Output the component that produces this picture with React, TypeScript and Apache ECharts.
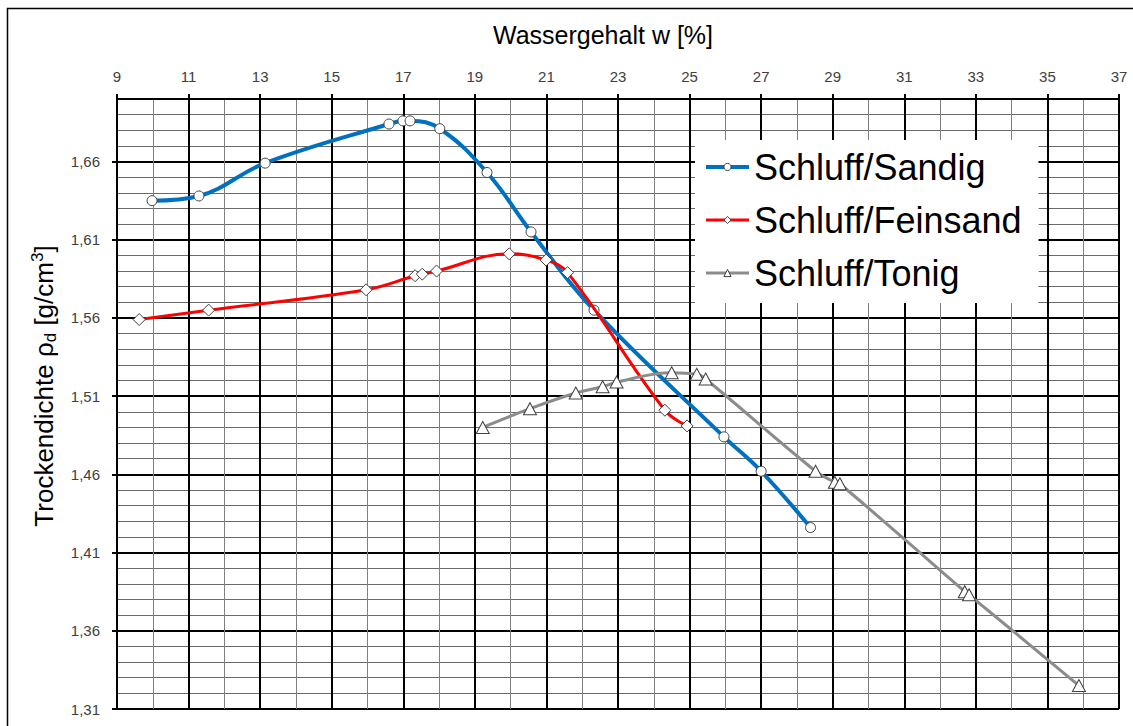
import React, { useEffect, useRef } from "react";
import * as echarts from "echarts";

const FONT = "'Liberation Sans', Arial, Helvetica, sans-serif";

// Series names as shown in the legend
const seriesNames = ["Schluff/Sandig", "Schluff/Feinsand", "Schluff/Tonig"];

// Water content w [%] and dry density ρd [g/cm³] per soil sample
const sandigW = [9.98, 11.29, 13.14, 16.6, 16.99, 17.19, 18.02, 19.34, 20.57, 22.33, 25.96, 27.0, 28.38];
const sandigRho = [1.635, 1.638, 1.659, 1.684, 1.686, 1.686, 1.681, 1.653, 1.615, 1.565, 1.484, 1.462, 1.426];

const feinsandW = [9.62, 11.56, 15.96, 17.33, 17.53, 17.93, 19.96, 20.99, 21.59, 24.31, 24.93];
const feinsandRho = [1.559, 1.565, 1.578, 1.587, 1.588, 1.59, 1.601, 1.597, 1.589, 1.501, 1.491];

const tonigW = [19.22, 20.54, 21.82, 22.57, 22.96, 24.5, 25.2, 25.45, 28.52, 29.06, 29.2, 32.69, 32.81, 35.88];
const tonigRho = [1.49, 1.502, 1.512, 1.516, 1.519, 1.525, 1.524, 1.521, 1.462, 1.455, 1.454, 1.385, 1.383, 1.325];

// Axis ranges
const xRange = [9, 37];
const xStep = 2;
const yRange = [1.31, 1.7];
const yStep = 0.05;
const yMinorStep = 0.01;

const seriesColors = ["#0070C0", "#FF0000", "#8C8C8C"];
const seriesSymbols = ["circle", "diamond", "triangle"];

const zip = (xs: number[], ys: number[]) => xs.map((x, i) => [x, ys[i]]);
const fmtComma = (v: number) => v.toFixed(2).replace(".", ",");

export default function App() {
  const ref = useRef<HTMLDivElement>(null);

  useEffect(() => {
    if (!ref.current) return;
    const chart = echarts.init(ref.current, null, { renderer: "svg" });

    const dataSets = [zip(sandigW, sandigRho), zip(feinsandW, feinsandRho), zip(tonigW, tonigRho)];
    const symbolSizes: (number | number[])[] = [10, 12, [13, 12]];
    const lineWidths = [4, 3, 3];

    chart.setOption({
      animation: false,
      backgroundColor: "#fff",
      textStyle: { fontFamily: FONT },
      grid: {
        left: 117,
        right: 14,
        top: 99,
        bottom: 17,
        containLabel: false,
        outerBoundsMode: "none",
      },
      xAxis: {
        type: "value",
        position: "top",
        min: xRange[0],
        max: xRange[1],
        interval: xStep,
        name: "Wassergehalt w [%]",
        nameLocation: "middle",
        nameGap: 52,
        nameTextStyle: { fontFamily: FONT, fontSize: 25, color: "#000", padding: [0, 30, 0, 0] },
        axisLine: { show: true, lineStyle: { color: "#000", width: 2 } },
        axisTick: { show: true, length: 5, lineStyle: { color: "#000", width: 2 } },
        axisLabel: { margin: 15, fontFamily: FONT, fontSize: 15, color: "#404040" },
        splitLine: { show: true, lineStyle: { color: "#000", width: 2 } },
        minorTick: { show: false, splitNumber: 2 },
        minorSplitLine: { show: true, lineStyle: { color: "#808080", width: 1 } },
      },
      yAxis: [
        {
          // fine grid every 0.01
          type: "value",
          position: "left",
          min: yRange[0],
          max: yRange[1],
          interval: yMinorStep,
          axisLine: { show: false },
          axisTick: { show: false },
          axisLabel: { show: false },
          splitLine: { show: true, lineStyle: { color: "#6a6a6a", width: 1 } },
        },
        {
          type: "value",
          position: "left",
          offset: 0,
          min: yRange[0],
          max: yRange[1],
          interval: yStep,
          name: "{m|Trockendichte ρ}{s|d}{m| [g/cm}{p|3}{m|]}",
          nameLocation: "middle",
          nameRotate: 90,
          nameGap: 58,
          nameTextStyle: {
            fontFamily: FONT,
            color: "#000",
            padding: [0, 0, 0, 36],
            rich: {
              m: { fontFamily: FONT, fontSize: 26, lineHeight: 30, color: "#000" },
              s: { fontFamily: FONT, fontSize: 17, lineHeight: 15, verticalAlign: "bottom", color: "#000" },
              p: { fontFamily: FONT, fontSize: 17, lineHeight: 15, verticalAlign: "top", color: "#000" },
            },
          },
          axisLine: { show: true, lineStyle: { color: "#000", width: 2 } },
          axisTick: { show: true, length: 5, lineStyle: { color: "#000", width: 2 } },
          axisLabel: {
            margin: 17,
            fontFamily: FONT,
            fontSize: 15,
            color: "#404040",
            showMaxLabel: false,
            formatter: (v: number) => fmtComma(v),
          },
          splitLine: { show: true, lineStyle: { color: "#000", width: 2 } },
        },
      ],
      legend: {
        orient: "vertical",
        left: 695,
        top: 140,
        backgroundColor: "#fff",
        padding: [9, 17, 12, 9],
        itemGap: 17,
        itemWidth: 43,
        itemHeight: 9,
        selectedMode: false,
        textStyle: { fontFamily: FONT, fontSize: 36, color: "#000" },
        itemStyle: { borderWidth: 1, borderColor: "#404040" },
        lineStyle: { width: "inherit" },
        data: seriesNames,
      },
      graphic: [
        {
          type: "rect",
          silent: true,
          z: -10,
          shape: { x: 7.5, y: 8.5, width: 1300, height: 900 },
          style: { fill: "none", stroke: "#000", lineWidth: 1.5 },
        },
      ],
      series: seriesNames.map((name, i) => ({
        name,
        type: "line",
        data: dataSets[i],
        smooth: 0.4,
        symbol: seriesSymbols[i],
        symbolSize: symbolSizes[i],
        showAllSymbol: true,
        z: 3 + i,
        lineStyle: { color: seriesColors[i], width: lineWidths[i] },
        itemStyle: { color: "#fff", borderColor: "#404040", borderWidth: 1 },
        emphasis: { disabled: true },
      })),
    });

    return () => chart.dispose();
  }, []);

  return (
    <div
      ref={ref}
      style={{ position: "absolute", left: 0, top: 0, width: 1133, height: 726 }}
    />
  );
}
